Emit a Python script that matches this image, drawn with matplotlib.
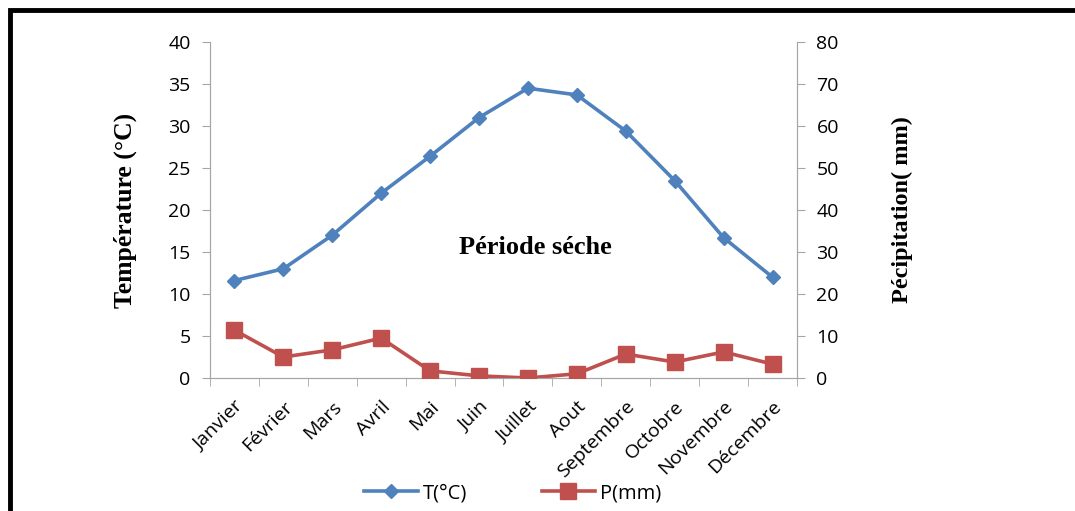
import matplotlib.pyplot as plt
from matplotlib.patches import Rectangle
from matplotlib.lines import Line2D

# donnees climatiques mensuelles
mois = ['Janvier', 'Février', 'Mars', 'Avril', 'Mai', 'Juin', 'Juillet',
        'Aout', 'Septembre', 'Octobre', 'Novembre', 'Décembre']
temperature = [11.6, 13.0, 17.0, 22.0, 26.4, 31.0, 34.5, 33.7, 29.4, 23.5, 16.7, 12.0]
precipitation = [11.4, 5.0, 6.7, 9.5, 1.7, 0.5, 0.0, 1.0, 5.7, 3.8, 6.2, 3.3]

bleu = '#4F81BD'
rouge = '#C0504D'
gris = '#A6A6A6'

plt.rcParams['font.family'] = ['Open Sans', 'DejaVu Sans']

fig = plt.figure(figsize=(10.75, 5.11), dpi=100)
ax = fig.add_axes([0.1953, 0.2603, 0.5461, 0.6575])
ax2 = ax.twinx()

x = range(len(mois))
ax.plot(x, temperature, color=bleu, lw=2.6, marker='D', ms=7, label='T(°C)', zorder=3)
ax2.plot(x, precipitation, color=rouge, lw=2.6, marker='s', ms=11, label='P(mm)', zorder=3)

ax.set_xlim(-0.5, 11.5)
ax.set_ylim(0, 40)
ax2.set_ylim(0, 80)
ax.set_yticks(range(0, 41, 5))
ax2.set_yticks(range(0, 81, 10))
ax.set_xticks(list(x))
ax.set_xticklabels(mois, rotation=45, ha='right', rotation_mode='anchor', fontsize=14)
ax.set_xticks([i - 0.5 for i in range(13)], minor=True)
ax.tick_params(axis='x', which='major', length=0, pad=14)
ax.tick_params(axis='x', which='minor', length=6, color=gris, direction='out')
ax.tick_params(axis='y', length=6, color=gris, labelsize=14, pad=8)
ax2.tick_params(axis='y', length=6, color=gris, labelsize=14, pad=8)

for a in (ax, ax2):
    a.spines['top'].set_visible(False)
    for s in ('left', 'right', 'bottom'):
        a.spines[s].set_color(gris)

ax.set_ylabel('Température (°C)', family='Liberation Serif', fontweight='bold',
              fontsize=18.5, labelpad=22)
ax2.set_ylabel('Pécipitation( mm)', family='Liberation Serif', fontweight='bold',
               fontsize=17.5, labelpad=38)

ax.text(6.15, 15.5, 'Période séche', family='Liberation Serif', fontweight='bold',
        fontsize=19, ha='center', va='center')

h1 = Line2D([], [], color=bleu, lw=2.6, marker='D', ms=7)
h2 = Line2D([], [], color=rouge, lw=2.6, marker='s', ms=11)
fig.legend([h1, h2], ['T(°C)', 'P(mm)'], loc='center', bbox_to_anchor=(0.477, 0.035),
           ncol=2, frameon=False, fontsize=14.5, columnspacing=3.7, handlelength=2.65,
           handletextpad=0.25)

# cadre noir
fig.add_artist(Rectangle((10 / 1075, -0.05), 1.1, 1 - 10 / 511 + 0.05,
                         transform=fig.transFigure, fill=False, ec='black', lw=3.5))

fig.savefig('out.png', dpi=100)
